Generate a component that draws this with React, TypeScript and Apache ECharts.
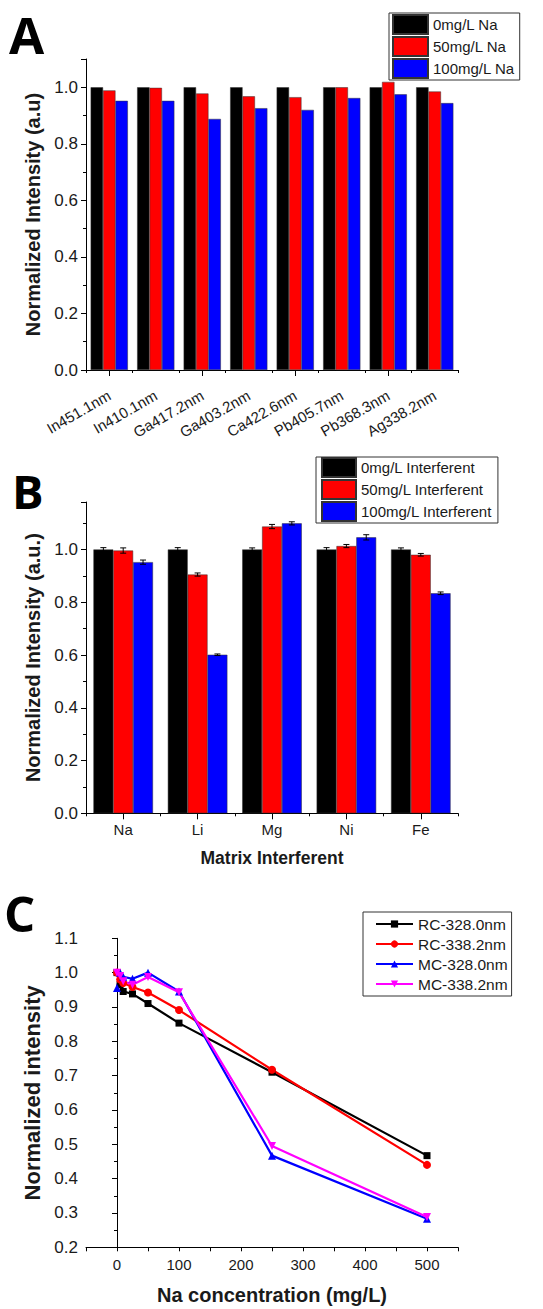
import React, { useEffect, useRef } from "react";
import * as echarts from "echarts";

// Panel A: intensity of each emission line under Na matrix
const lineCategories = ["In451.1nm", "In410.1nm", "Ga417.2nm", "Ga403.2nm", "Ca422.6nm", "Pb405.7nm", "Pb368.3nm", "Ag338.2nm"];
const na0 = [1, 1, 1, 1, 1, 1, 1, 1];
const na50 = [0.989, 0.998, 0.978, 0.968, 0.965, 1.0, 1.019, 0.985];
const na100 = [0.952, 0.952, 0.888, 0.926, 0.92, 0.962, 0.975, 0.944];
const naNames = ["0mg/L Na", "50mg/L Na", "100mg/L Na"];

// Panel B: matrix interferents
const interferents = ["Na", "Li", "Mg", "Ni", "Fe"];
const int0 = [1, 1, 1, 1, 1];
const int0Err = [0.007, 0.007, 0.006, 0.007, 0.006];
const int50 = [0.996, 0.905, 1.087, 1.013, 0.98];
const int50Err = [0.01, 0.006, 0.008, 0.006, 0.005];
const int100 = [0.952, 0.601, 1.099, 1.046, 0.834];
const int100Err = [0.008, 0.003, 0.006, 0.01, 0.005];
const intNames = ["0mg/L Interferent", "50mg/L Interferent", "100mg/L Interferent"];

// Panel C: normalized intensity versus Na concentration
const naConc = [0, 5, 10, 25, 50, 100, 250, 500];
const rc328 = [1.0, 0.965, 0.945, 0.938, 0.91, 0.853, 0.71, 0.467];
const rc338 = [1.0, 0.98, 0.97, 0.958, 0.942, 0.891, 0.717, 0.44];
const mc328 = [0.955, 1.0, 0.988, 0.982, 1.0, 0.945, 0.467, 0.283];
const mc338 = [1.0, 0.99, 0.975, 0.965, 0.987, 0.943, 0.495, 0.288];
const lineNames = ["RC-328.0nm", "RC-338.2nm", "MC-328.0nm", "MC-338.2nm"];

const barColors = ["#000000", "#ff0000", "#0000ff"];
const lineColors = ["#000000", "#ff0000", "#0000ff", "#ff00ff"];
const FONT = "'Liberation Sans', Arial, sans-serif";
const TXT = "#1a1a1a";

export default function App() {
  const ref = useRef<HTMLDivElement>(null);

  useEffect(() => {
    if (!ref.current) return;
    const chart = echarts.init(ref.current, null, { renderer: "svg" });

    const grids = [
      { left: 86, top: 59, width: 372, height: 311 },
      { left: 86, top: 502, width: 372, height: 311.3 },
      { left: 86, top: 938.3, width: 372, height: 309 },
    ];

    const axisLine = { show: true, lineStyle: { color: "#000", width: 1 } };
    const labelStyle = { color: TXT, fontFamily: FONT, fontSize: 17 };
    const titleStyle = (size: number) => ({ color: TXT, fontFamily: FONT, fontSize: size, fontWeight: "bold" });
    const every02 = (v: number) =>
      Math.abs(v / 0.2 - Math.round(v / 0.2)) < 1e-6 ? v.toFixed(1) : "";

    const catAxes = (gridIndex: number, data: string[], labelOpt: any, extra: any = {}) => [
      {
        type: "category",
        gridIndex,
        data,
        position: "bottom",
        axisLine,
        axisTick: { show: true, alignWithLabel: false, length: 3, lineStyle: { color: "#000" } },
        axisLabel: { ...labelOpt, interval: 0 },
        ...extra,
      },
      {
        type: "category",
        gridIndex,
        data,
        position: "bottom",
        axisLine: { show: false },
        axisTick: { show: true, alignWithLabel: true, length: 6, lineStyle: { color: "#000" } },
        axisLabel: { show: false },
      },
    ];

    const barYAxes = (gridIndex: number, max: number, name: string) => [
      {
        type: "value",
        gridIndex,
        position: "left",
        min: 0,
        max,
        interval: 0.2,
        name,
        nameLocation: "middle",
        nameGap: 42,
        nameTextStyle: titleStyle(20),
        axisLine,
        axisTick: { show: true, length: 5, lineStyle: { color: "#000" } },
        axisLabel: { ...labelStyle, margin: 8, formatter: every02 },
        splitLine: { show: false },
      },
      {
        type: "value",
        gridIndex,
        position: "left",
        min: 0,
        max,
        interval: 0.1,
        axisLine: { show: false },
        axisTick: { show: true, length: 3, lineStyle: { color: "#000" } },
        axisLabel: { show: false },
        splitLine: { show: false },
      },
    ];

    const xAxes = [
      ...catAxes(0, lineCategories, {
        color: TXT,
        fontFamily: FONT,
        fontSize: 15,
        rotate: 30,
        margin: 24,
      }),
      ...catAxes(
        1,
        interferents,
        { color: TXT, fontFamily: FONT, fontSize: 15, margin: 9 },
        { name: "Matrix Interferent", nameLocation: "middle", nameGap: 36, nameTextStyle: titleStyle(17.5) }
      ),
      {
        type: "value",
        gridIndex: 2,
        min: -50,
        max: 550,
        interval: 50,
        name: "Na concentration (mg/L)",
        nameLocation: "middle",
        nameGap: 38,
        nameTextStyle: titleStyle(20),
        axisLine,
        axisTick: { show: true, length: 4, lineStyle: { color: "#000" } },
        axisLabel: {
          color: TXT,
          fontFamily: FONT,
          fontSize: 15,
          margin: 10,
          formatter: (v: number) => (v >= 0 && v <= 500 && v % 100 === 0 ? String(v) : ""),
        },
        splitLine: { show: false },
      },
    ];

    const yAxes = [
      ...barYAxes(0, 1.1, "Normalized Intensity (a.u)"),
      ...barYAxes(1, 1.18, "Normalized Intensity (a.u.)"),
      {
        type: "value",
        gridIndex: 2,
        position: "left",
        min: 0.2,
        max: 1.1,
        interval: 0.1,
        name: "Normalized intensity",
        nameLocation: "middle",
        nameGap: 42,
        nameTextStyle: titleStyle(22),
        axisLine,
        axisTick: { show: true, length: 5, lineStyle: { color: "#000" } },
        minorTick: { show: true, splitNumber: 2, length: 3, lineStyle: { color: "#000" } },
        axisLabel: { ...labelStyle, margin: 8, formatter: (v: number) => v.toFixed(1) },
        splitLine: { show: false },
      },
    ];

    const barSeries = (names: string[], values: number[][], xAxisIndex: number, yAxisIndex: number) =>
      names.map((name, i) => ({
        type: "bar",
        name,
        xAxisIndex,
        yAxisIndex,
        data: values[i],
        barGap: "0%",
        barCategoryGap: "20%",
        itemStyle: { color: barColors[i], borderColor: "#333", borderWidth: 0.5 },
      }));

    const errorSeries = (values: number[], errs: number[], slot: number) => ({
      type: "custom",
      xAxisIndex: 2,
      yAxisIndex: 2,
      z: 5,
      silent: true,
      data: values.map((v, i) => [i, v, errs[i]]),
      encode: { x: 0, y: 1 },
      renderItem: (_params: any, api: any) => {
        const idx = api.value(0);
        const v = api.value(1);
        const e = api.value(2);
        const band = api.size([1, 0])[0];
        const barW = (band * 0.8) / 3;
        const top = api.coord([idx, v + e]);
        const bot = api.coord([idx, v - e]);
        const cx = top[0] + (slot - 1) * barW;
        const cap = 3;
        const style = { stroke: "#000", lineWidth: 1 };
        return {
          type: "group",
          children: [
            { type: "line", shape: { x1: cx, y1: top[1], x2: cx, y2: bot[1] }, style },
            { type: "line", shape: { x1: cx - cap, y1: top[1], x2: cx + cap, y2: top[1] }, style },
            { type: "line", shape: { x1: cx - cap, y1: bot[1], x2: cx + cap, y2: bot[1] }, style },
          ],
        };
      },
    });

    const lineSymbols = ["rect", "circle", "triangle", "triangle"];
    const lineRot = [0, 0, 0, 180];
    const lineData = [rc328, rc338, mc328, mc338];
    const lineSeries = lineNames.map((name, i) => ({
      type: "line",
      name,
      xAxisIndex: 4,
      yAxisIndex: 4,
      data: naConc.map((c, j) => [c, lineData[i][j]]),
      symbol: lineSymbols[i],
      symbolRotate: lineRot[i],
      symbolSize: i === 0 ? 7 : 8,
      lineStyle: { color: lineColors[i], width: 2.2 },
      itemStyle: { color: lineColors[i] },
    }));

    const legendText = { color: TXT, fontFamily: FONT, fontSize: 15, lineHeight: 19 };

    chart.setOption({
      animation: false,
      backgroundColor: "#ffffff",
      grid: grids,
      xAxis: xAxes,
      yAxis: yAxes,
      legend: [
        {
          data: naNames,
          orient: "vertical",
          left: 389,
          top: 13,
          icon: "rect",
          itemWidth: 35,
          itemHeight: 19,
          itemGap: 1,
          padding: [1, 5, 1, 3],
          borderColor: "#333",
          borderWidth: 1,
          textStyle: legendText,
        },
        {
          data: intNames,
          orient: "vertical",
          left: 316,
          top: 457,
          icon: "rect",
          itemWidth: 34,
          itemHeight: 19,
          itemGap: 1,
          padding: [0, 6, 1, 5],
          borderColor: "#333",
          borderWidth: 1,
          textStyle: legendText,
        },
        {
          data: lineNames,
          orient: "vertical",
          left: 363,
          top: 912,
          itemWidth: 37,
          itemHeight: 9,
          itemGap: 2,
          padding: [3, 4, 3, 12],
          borderColor: "#333",
          borderWidth: 1,
          textStyle: { color: TXT, fontFamily: FONT, fontSize: 15.5, lineHeight: 18 },
        },
      ],
      graphic: [
        { type: "text", left: 9, top: 8, style: { text: "A", font: "bold 51px 'Open Sans', sans-serif", fill: "#000" } },
        { type: "text", left: 12, top: 467, style: { text: "B", font: "bold 47px 'Open Sans', sans-serif", fill: "#000" } },
        { type: "text", left: 4, top: 888, style: { text: "C", font: "bold 49px 'Open Sans', sans-serif", fill: "#000" } },
      ],
      series: [
        ...barSeries(naNames, [na0, na50, na100], 0, 0),
        ...barSeries(intNames, [int0, int50, int100], 2, 2),
        errorSeries(int0, int0Err, 0),
        errorSeries(int50, int50Err, 1),
        errorSeries(int100, int100Err, 2),
        ...lineSeries,
      ],
    });

    return () => chart.dispose();
  }, []);

  return (
    <div
      ref={ref}
      style={{ position: "fixed", left: 0, top: 0, width: 543, height: 1309, background: "#fff" }}
    />
  );
}
